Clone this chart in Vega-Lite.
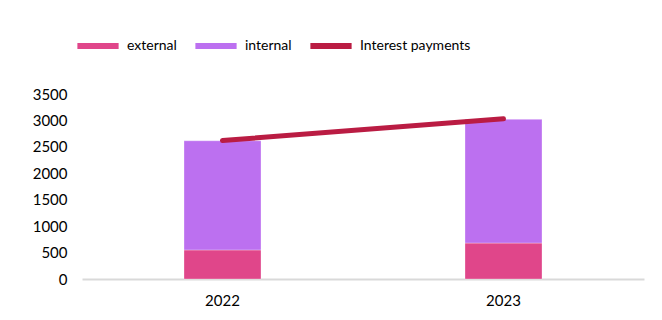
{
  "$schema": "https://vega.github.io/schema/vega-lite/v6.json",
  "width": 562,
  "height": 185,
  "autosize": {"type": "none"},
  "padding": {"left": 82, "top": 94, "right": 18, "bottom": 41},
  "background": "white",
  "data": {
    "values": [
      {"year": "2022", "series": "external", "value": 550},
      {"year": "2022", "series": "internal", "value": 2065},
      {"year": "2023", "series": "external", "value": 680},
      {"year": "2023", "series": "internal", "value": 2340},
      {"year": "2022", "series": "Interest payments", "value": 2620},
      {"year": "2023", "series": "Interest payments", "value": 3030}
    ]
  },
  "config": {
    "view": {"stroke": null},
    "font": "Lato",
    "axis": {"labelFont": "Lato", "labelFontSize": 15, "labelColor": "#000000", "grid": false, "ticks": false, "title": null}
  },
  "encoding": {
    "x": {
      "field": "year",
      "type": "nominal",
      "scale": {"paddingInner": 0, "paddingOuter": 0},
      "axis": {"labelAngle": 0, "domainColor": "#d9d9d9", "domainWidth": 2, "labelPadding": 14}
    },
    "y": {
      "field": "value",
      "type": "quantitative",
      "scale": {"domain": [0, 3500], "nice": false},
      "axis": {"values": [0, 500, 1000, 1500, 2000, 2500, 3000, 3500], "format": "d", "domain": false, "labelPadding": 15}
    },
    "color": {
      "field": "series",
      "type": "nominal",
      "scale": {
        "domain": ["external", "internal", "Interest payments"],
        "range": ["#E0468A", "#BC70F0", "#BA1C43"]
      },
      "legend": {
        "title": null,
        "orient": "none",
        "legendX": -8,
        "legendY": -72,
        "direction": "horizontal",
        "symbolType": "stroke",
        "symbolStrokeWidth": 6,
        "symbolSize": 1700,
        "labelFont": "Lato",
        "labelFontSize": 14,
        "labelColor": "#000000",
        "labelOffset": 5,
        "columnPadding": 6
      }
    }
  },
  "layer": [
    {
      "transform": [{"filter": "datum.series !== 'Interest payments'"}],
      "mark": {"type": "bar", "size": 77, "strokeWidth": 1, "stroke": "#ffffff", "strokeOpacity": 0.3},
      "encoding": {
        "order": {"field": "series", "sort": "ascending"}
      }
    },
    {
      "transform": [{"filter": "datum.series === 'Interest payments'"}],
      "mark": {"type": "line", "strokeWidth": 5, "strokeCap": "round"},
      "encoding": {}
    }
  ]
}
